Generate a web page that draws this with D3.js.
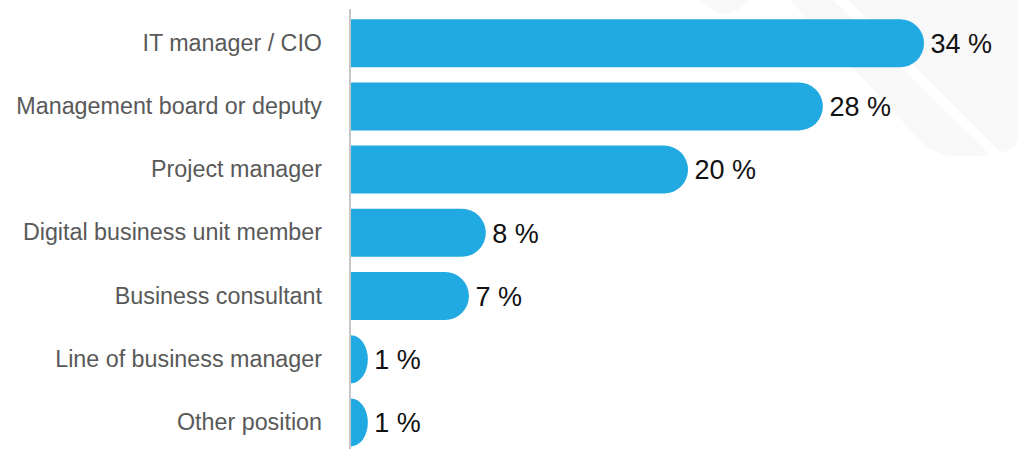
<!DOCTYPE html>
<html>
<head>
<meta charset="utf-8">
<script src="https://cdn.jsdelivr.net/npm/d3@7"></script>
<style>
  html, body { margin: 0; padding: 0; background: #fff; }
  svg { display: block; }
</style>
</head>
<body>
<div id="chart"></div>
<script>
var categories = [
  "IT manager / CIO",
  "Management board or deputy",
  "Project manager",
  "Digital business unit member",
  "Business consultant",
  "Line of business manager",
  "Other position",
];
var values = [34, 28, 20, 8, 7, 1, 1];
var valueLabels = ["34 %", "28 %", "20 %", "8 %", "7 %", "1 %", "1 %"];

var width = 1018;
var height = 449;
var left = 351;

var svg = d3
  .select("#chart")
  .append("svg")
  .attr("width", width)
  .attr("height", height);

// faint background decoration, top right
var bg = svg.append("g").attr("fill", "#f8f8f9");
bg.append("path").attr(
  "d",
  "M790,0 L833,0 L985,150 Q990,156 975,156 L955,156 Q935,156 920,140 Z"
);
bg.append("path").attr(
  "d",
  "M848,0 L1018,0 L1018,140 Q1012,152 1000,152 Z"
);
bg.append("path").attr("d", "M700,0 L748,0 Q735,16 718,14 Z");

var x = d3.scaleLinear().domain([0, 34]).range([left, 924]);

var y = d3
  .scaleBand()
  .domain(categories)
  .range([11.6, 454])
  .paddingInner(0.24)
  .paddingOuter(0.12);

var data = categories.map(function (c, i) {
  return { name: c, value: values[i], label: valueLabels[i] };
});

function barPath(d) {
  var x0 = x(0);
  var x1 = x(d.value);
  var y0 = y(d.name);
  var h = y.bandwidth();
  var w = x1 - x0;
  var ry = h / 2;
  var rx = Math.min(w, ry);
  return (
    "M" + x0 + "," + y0 +
    "H" + (x1 - rx) +
    "A" + rx + "," + ry + " 0 0 1 " + (x1 - rx) + "," + (y0 + h) +
    "H" + x0 + "Z"
  );
}

svg
  .append("g")
  .selectAll("path")
  .data(data)
  .enter()
  .append("path")
  .attr("d", barPath)
  .attr("fill", "#21a9e1");

// axis line
svg
  .append("line")
  .attr("x1", left - 1)
  .attr("x2", left - 1)
  .attr("y1", 9)
  .attr("y2", height)
  .attr("stroke", "#b3b3b3")
  .attr("stroke-width", 1.5);

svg
  .append("g")
  .selectAll("text")
  .data(data)
  .enter()
  .append("text")
  .attr("x", 322)
  .attr("y", (d) => y(d.name) + y.bandwidth() / 2)
  .attr("dy", "0.33em")
  .attr("text-anchor", "end")
  .attr("font-family", "Liberation Sans, Arial, sans-serif")
  .attr("font-size", 23.3)
  .attr("fill", "#595959")
  .text((d) => d.name);

svg
  .append("g")
  .selectAll("text")
  .data(data)
  .enter()
  .append("text")
  .attr("x", (d) => x(d.value) + 6.5)
  .attr("y", (d) => y(d.name) + y.bandwidth() / 2)
  .attr("dy", "0.36em")
  .attr("font-family", "Liberation Sans, Arial, sans-serif")
  .attr("font-size", 27)
  .attr("fill", "#111")
  .text((d) => d.label);
</script>
</body>
</html>
